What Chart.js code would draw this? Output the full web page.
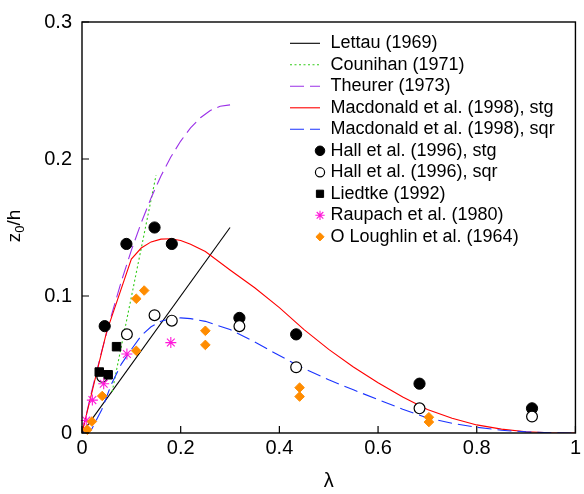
<!DOCTYPE html>
<html><head><meta charset="utf-8">
<script src="https://cdn.jsdelivr.net/npm/chart.js@4/dist/chart.umd.min.js"></script>
<style>html,body{margin:0;padding:0;background:#fff}#wrap{width:584px;height:494px;position:relative}</style>
</head><body><div id="wrap"><canvas id="c"></canvas></div>
<script>
// ---- data ----
const lettauX = [0, 0.3];
const lettauY = [0, 0.15];
const counihanX = [0.061, 0.150];
const counihanY = [0.030, 0.188];
const theurerX = [0,0.02,0.04,0.06,0.08,0.1,0.12,0.14,0.16,0.18,0.2,0.22,0.24,0.26,0.28,0.3];
const theurerY = [0,0.031,0.0597,0.0864,0.111,0.1333,0.1535,0.1716,0.1876,0.2014,0.2131,0.2227,0.2301,0.2354,0.2385,0.2395];
const macStgX = [0,0.05,0.1,0.12,0.14,0.16,0.18,0.2,0.22,0.25,0.3,0.35,0.4,0.45,0.5,0.55,0.6,0.65,0.7,0.75,0.8,0.85,0.9,0.95,1];
const macStgY = [0,0.074,0.127,0.135,0.1395,0.1415,0.1418,0.1405,0.1378,0.1325,0.119,0.106,0.0915,0.0755,0.061,0.0482,0.0367,0.0263,0.0172,0.0108,0.0059,0.0028,0.0009,0.0002,0];
const macSqrX = [0,0.02,0.04,0.06,0.08,0.1,0.12,0.14,0.16,0.18,0.2,0.22,0.25,0.3,0.35,0.4,0.45,0.5,0.55,0.6,0.65,0.7,0.75,0.8,0.85,0.9,0.95,1];
const macSqrY = [0,0.003,0.017,0.036,0.0505,0.061,0.071,0.0775,0.0815,0.0835,0.084,0.0835,0.0815,0.0755,0.0665,0.0565,0.047,0.0388,0.0315,0.0244,0.0174,0.011,0.0071,0.0042,0.002,0.0008,0.0002,0];
const hallStgX = [0.046,0.090,0.147,0.182,0.319,0.434,0.684,0.912];
const hallStgY = [0.078,0.138,0.150,0.138,0.084,0.072,0.036,0.018];
const hallSqrX = [0.041,0.091,0.147,0.182,0.319,0.434,0.684,0.912];
const hallSqrY = [0.041,0.072,0.086,0.082,0.078,0.048,0.018,0.012];
const liedtkeX = [0.035,0.053,0.070];
const liedtkeY = [0.0445,0.0425,0.063];
const raupachX = [0.0087,0.021,0.044,0.091,0.180];
const raupachY = [0.0091,0.024,0.036,0.0577,0.066];
const oloughX = [0.0107,0.020,0.041,0.110,0.110,0.126,0.250,0.250,0.441,0.441,0.703,0.703];
const oloughY = [0.0024,0.0084,0.027,0.060,0.098,0.104,0.0746,0.0643,0.0331,0.0266,0.0115,0.008];
const xTicks = [0,0.2,0.4,0.6,0.8,1];
const xTickLabels = ['0','0.2','0.4','0.6','0.8','1'];
const yTicks = [0,0.1,0.2,0.3];
const yTickLabels = ['0','0.1','0.2','0.3'];
const seriesLabels = ['Lettau (1969)','Counihan (1971)','Theurer (1973)','Macdonald et al. (1998), stg','Macdonald et al. (1998), sqr','Hall et al. (1996), stg','Hall et al. (1996), sqr','Liedtke (1992)','Raupach et al. (1980)','O Loughlin et al. (1964)'];

function pts(xs, ys){ return xs.map((x,i)=>({x:x, y:ys[i]})); }
const FONT = '"Liberation Sans", Arial, Helvetica, sans-serif';

function lineDs(label, xs, ys, color, dash, ord){
  return {label, data:pts(xs,ys), showLine:true, borderColor:color, backgroundColor:color,
    borderWidth:1.1, borderDash:dash, pointRadius:0, pointHoverRadius:0, tension:0, fill:false, order:ord};
}
function markDs(label, xs, ys, style, r, fillC, strokeC, bw, ord){
  return {label, data:pts(xs,ys), showLine:false, pointStyle:style, pointRadius:r, pointHoverRadius:r,
    backgroundColor:fillC, borderColor:strokeC, pointBorderWidth:bw, borderWidth:bw, order:ord, clip:false};
}

const datasets = [
  lineDs(seriesLabels[0], lettauX, lettauY, '#000000', [], 19),
  lineDs(seriesLabels[1], counihanX, counihanY, '#33cc1a', [2,2.5], 18),
  lineDs(seriesLabels[2], theurerX, theurerY, '#9b30e8', [14,6], 17),
  lineDs(seriesLabels[3], macStgX, macStgY, '#ff0000', [], 16),
  lineDs(seriesLabels[4], macSqrX, macSqrY, '#1a33ff', [14,6], 15),
  markDs(seriesLabels[5], hallStgX, hallStgY, 'circle', 5.6, '#000000', '#000000', 1, 5),
  markDs(seriesLabels[6], hallSqrX, hallSqrY, 'circle', 5.4, '#ffffff', '#000000', 1.2, 4),
  markDs(seriesLabels[7], liedtkeX, liedtkeY, 'rect', 6, '#000000', '#000000', 1, 3),
  markDs(seriesLabels[8], raupachX, raupachY, 'star', 5.5, '#ff1ad9', '#ff1ad9', 1.1, 2),
  markDs(seriesLabels[9], oloughX, oloughY, 'rectRot', 4.8, '#ff8c00', '#ff8c00', 1, 1)
];

const decor = {
  id:'decor',
  afterDraw(chart){
    const ctx = chart.ctx, a = chart.chartArea;
    const xs = chart.scales.x, ys = chart.scales.y;
    ctx.save();
    ctx.strokeStyle = '#000'; ctx.lineWidth = 1.4; ctx.setLineDash([]);
    ctx.strokeRect(a.left, a.top, a.right - a.left, a.bottom - a.top);
    ctx.lineWidth = 1.2;
    ctx.beginPath();
    xTicks.forEach(v => { const px = xs.getPixelForValue(v); ctx.moveTo(px, a.bottom); ctx.lineTo(px, a.bottom - 7); });
    yTicks.forEach(v => { const py = ys.getPixelForValue(v); ctx.moveTo(a.left, py); ctx.lineTo(a.left + 7, py); });
    ctx.stroke();
    // axis titles
    ctx.fillStyle = '#000';
    ctx.font = '20px ' + FONT; ctx.textAlign = 'center'; ctx.textBaseline = 'alphabetic';
    ctx.fillText('λ', (a.left + a.right)/2, 487);
    ctx.save();
    ctx.translate(20, 226); ctx.rotate(-Math.PI/2);
    const big = '19px ' + FONT, small = '13px ' + FONT;
    ctx.font = big; const wz = ctx.measureText('z').width; const wh = ctx.measureText('/h').width;
    ctx.font = small; const w0 = ctx.measureText('0').width;
    let sx = -(wz + w0 + wh)/2;
    ctx.textAlign = 'left';
    ctx.font = big; ctx.fillText('z', sx, 0); sx += wz;
    ctx.font = small; ctx.fillText('0', sx, 4); sx += w0;
    ctx.font = big; ctx.fillText('/h', sx, 0);
    ctx.restore();
    // legend
    ctx.font = '18px ' + FONT; ctx.textAlign = 'left'; ctx.textBaseline = 'middle';
    chart.data.datasets.forEach((ds, i) => {
      const y = 43.3 + i * 21.5;
      if (ds.showLine) {
        ctx.save();
        ctx.strokeStyle = ds.borderColor; ctx.lineWidth = ds.borderWidth; ctx.setLineDash(ds.borderDash || []);
        ctx.beginPath(); ctx.moveTo(290, y); ctx.lineTo(320, y); ctx.stroke();
        ctx.restore();
      } else {
        ctx.save();
        ctx.fillStyle = ds.backgroundColor; ctx.strokeStyle = ds.borderColor; ctx.lineWidth = ds.borderWidth;
        Chart.helpers.drawPoint(ctx, {pointStyle: ds.pointStyle, radius: ds.pointRadius * 0.85, rotation: 0, borderWidth: ds.borderWidth}, 320, y);
        ctx.restore();
      }
      ctx.fillStyle = '#000';
      ctx.fillText(ds.label, 330.5, y);
    });
    ctx.restore();
  }
};

new Chart(document.getElementById('c'), {
  type:'scatter',
  data:{datasets},
  options:{
    animation:false, responsive:true, maintainAspectRatio:false,
    layout:{padding:{left:0, right:4, top:16, bottom:0}},
    plugins:{legend:{display:false}, tooltip:{enabled:false}},
    events:[],
    scales:{
      x:{type:'linear', min:0, max:1,
        afterBuildTicks:s=>{ s.ticks = xTicks.map(v=>({value:v})); },
        afterFit:s=>{ s.height = 61; },
        grid:{display:false, drawTicks:false}, border:{display:false},
        ticks:{callback:(v,i)=>xTickLabels[i], color:'#000', font:{size:20, family:FONT}, padding:3, maxRotation:0, autoSkip:false}
      },
      y:{type:'linear', min:0, max:0.3,
        afterBuildTicks:s=>{ s.ticks = yTicks.map(v=>({value:v})); },
        afterFit:s=>{ s.width = 82; },
        grid:{display:false, drawTicks:false}, border:{display:false},
        ticks:{callback:(v,i)=>yTickLabels[i], color:'#000', font:{size:20, family:FONT}, padding:10, autoSkip:false}
      }
    }
  },
  plugins:[decor]
});
</script></body></html>
